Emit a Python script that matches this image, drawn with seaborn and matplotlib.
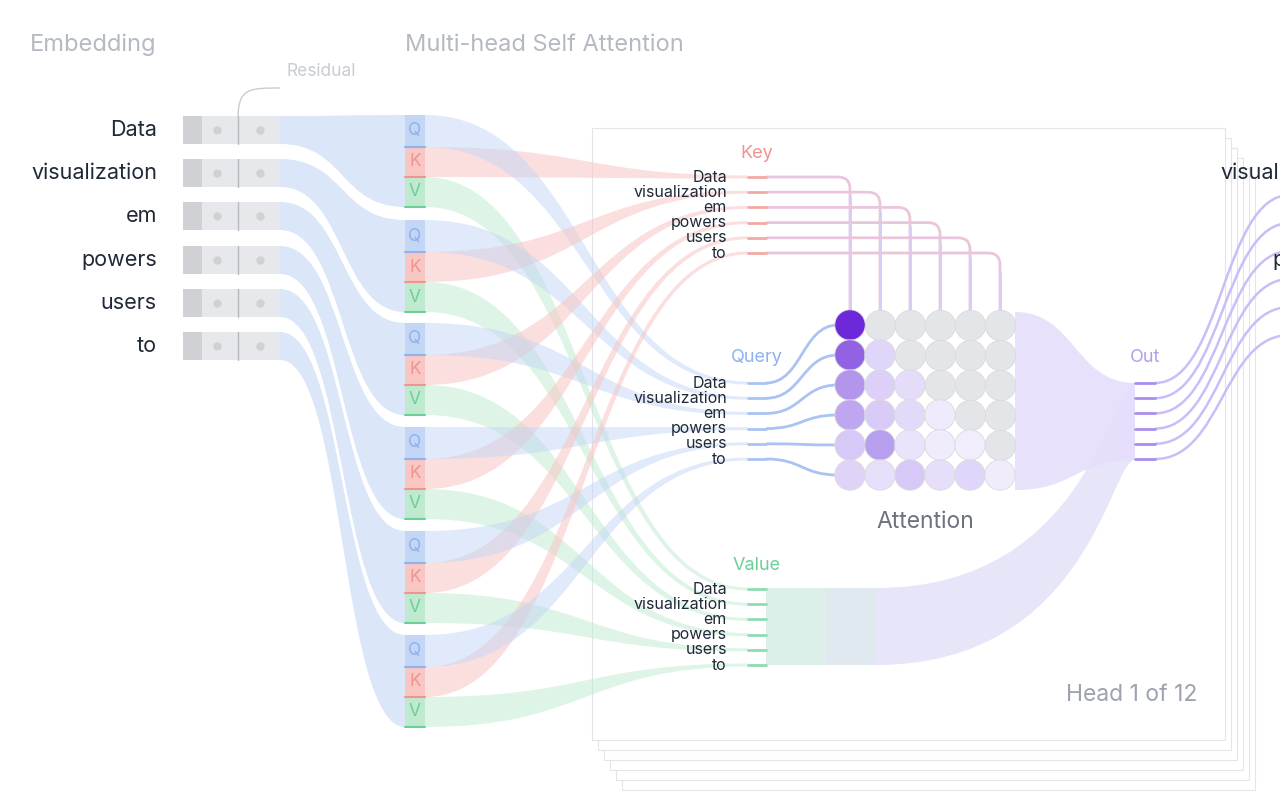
import numpy as np
import pandas as pd
import seaborn as sns
import matplotlib.pyplot as plt
from matplotlib.path import Path
from matplotlib.patches import PathPatch, Rectangle
from matplotlib.colors import LinearSegmentedColormap

tokens = ['Data', 'visualization', 'em', 'powers', 'users', 'to']
attention = [
    [1.00, 0, 0, 0, 0, 0],
    [0.80, 0.20, 0, 0, 0, 0],
    [0.60, 0.25, 0.15, 0, 0, 0],
    [0.50, 0.28, 0.17, 0.05, 0, 0],
    [0.30, 0.55, 0.10, 0.03, 0.02, 0],
    [0.22, 0.12, 0.30, 0.13, 0.20, 0.03],
]
head_label = 'Head 1 of 12'

sns.set_style('white')
plt.rcParams['font.family'] = ['Inter', 'DejaVu Sans']

fig = plt.figure(figsize=(12.8, 7.95), dpi=100)
ax = fig.add_axes([0, 0, 1, 1])

BLUE, RED, GREEN = '#c3d6f6', '#f8c6c3', '#bfead0'
BLUE_T, RED_T, GREEN_T, PURP_T = '#8fb1ec', '#f0948e', '#6ccf98', '#b49cf0'


def ribbon(x0, a0, b0, x1, a1, b1, color, alpha=0.5, c0=None, c1=None, z=2):
    c0 = (x0 + x1) / 2 if c0 is None else c0
    c1 = (x0 + x1) / 2 if c1 is None else c1
    verts = [(x0, a0), (c0, a0), (c1, a1), (x1, a1), (x1, b1),
             (c1, b1), (c0, b0), (x0, b0), (x0, a0)]
    codes = [Path.MOVETO, Path.CURVE4, Path.CURVE4, Path.CURVE4, Path.LINETO,
             Path.CURVE4, Path.CURVE4, Path.CURVE4, Path.CLOSEPOLY]
    ax.add_patch(PathPatch(Path(verts, codes), fc=color, ec='none', alpha=alpha, zorder=z))


def curve(x0, y0, x1, y1, color, lw=1.8, z=3, alpha=1):
    xm = (x0 + x1) / 2
    p = Path([(x0, y0), (xm, y0), (xm, y1), (x1, y1)],
             [Path.MOVETO, Path.CURVE4, Path.CURVE4, Path.CURVE4])
    ax.add_patch(PathPatch(p, fc='none', ec=color, lw=lw, zorder=z, alpha=alpha))


# titles
ax.text(30, 45, 'Embedding', fontsize=17, color='#b4b9c2', va='center')
ax.text(405, 45, 'Multi-head Self Attention', fontsize=17, color='#b4b9c2', va='center')
ax.text(286, 72, 'Residual', fontsize=12.5, color='#c8ccd3', va='center')
ax.add_patch(PathPatch(Path([(238, 118), (238, 88), (250, 88), (280, 88)],
                            [Path.MOVETO, Path.CURVE4, Path.CURVE4, Path.CURVE4]),
                       fc='none', ec='#c8ccd3', lw=1))

tok_y = [130, 173, 216, 260, 303, 346]
grp_top = [115, 220, 323, 427, 531, 635]
qkv_h = [32, 30, 30]

# head panel stack
for k in range(5, -1, -1):
    ax.add_patch(Rectangle((592 + 6 * k, 128 + 10 * k), 633, 612, fc='white',
                           ec='#e3e5e8', lw=0.8, zorder=1))

for i, t in enumerate(tokens):
    y = tok_y[i]
    ax.text(157, y, t, fontsize=15.5, ha='right', va='center', color='#1f2937')
    ax.add_patch(Rectangle((183, y - 14), 19, 28, fc='#cfd1d5', ec='none', zorder=2))
    ax.add_patch(Rectangle((202, y - 14), 78, 28, fc='#e6e8ec', ec='none', zorder=2))
    ax.plot([217, 260], [y, y], 'o', color='#cfd1d5', ms=5, zorder=3)
    ax.plot([238, 238], [y - 14, y + 14], color='#b5b8be', lw=1, zorder=3)
    g = grp_top[i]
    ribbon(280, y - 14, y + 14, 405, g, g + 92, BLUE, alpha=0.6, c0=345, c1=340)
    tops = [g, g + 32, g + 62]
    for j, (lab, fc, tc) in enumerate(zip('QKV', [BLUE, RED, GREEN], [BLUE_T, RED_T, GREEN_T])):
        ax.add_patch(Rectangle((405, tops[j]), 20, qkv_h[j], fc=fc, ec='none', zorder=3))
        ax.plot([405, 425], [tops[j] + qkv_h[j]] * 2, color=tc, lw=1.5, zorder=4)
        ax.text(415, tops[j] + qkv_h[j] / 2, lab, color=tc, fontsize=12.5, ha='center', va='center', zorder=5)

key_y = [177 + 15.2 * i for i in range(6)]
qry_y = [383 + 15.2 * i for i in range(6)]
val_y = [589 + 15.2 * i for i in range(6)]
col_x = [850 + 30 * j for j in range(6)]
row_y = [325 + 30 * i for i in range(6)]

for i in range(6):
    g = grp_top[i]
    ribbon(425, g + 32, g + 62, 748, key_y[i] - 1.5, key_y[i] + 1.5, RED, alpha=0.55)
    ribbon(425, g, g + 32, 748, qry_y[i] - 1.5, qry_y[i] + 1.5, BLUE, alpha=0.5)
    ribbon(425, g + 62, g + 92, 748, val_y[i] - 1.5, val_y[i] + 1.5, GREEN, alpha=0.5)

# value -> out and attention -> out
ax.add_patch(Rectangle((766, 588), 60, 77, fc='#dcefe8', ec='none', zorder=2))
ax.add_patch(Rectangle((826, 588), 50, 77, fc='#e0e9ef', ec='none', zorder=2))
ribbon(876, 588, 665, 1135, 383, 460, '#e4e4f8', alpha=0.9, c0=1090, c1=1110)
ribbon(1015, 312, 490, 1135, 383, 460, '#e6defb', alpha=0.9)

for lab, ys, col, tcol, ty in [('Key', key_y, '#f3a9a4', RED_T, 153),
                               ('Query', qry_y, '#a9c4f2', BLUE_T, 358),
                               ('Value', val_y, '#8ddcb2', GREEN_T, 565)]:
    ax.text(757, ty, lab, fontsize=13, color=tcol, ha='center', va='center', zorder=6)
    for i, t in enumerate(tokens):
        ax.text(727, ys[i], t, fontsize=11.5, ha='right', va='center', color='#1f2937', zorder=6)
        ax.plot([748, 766], [ys[i], ys[i]], color=col, lw=2, zorder=6)

# key lines to columns, query lines to rows
for i in range(6):
    xc, yk = col_x[i], key_y[i]
    p = Path([(766, yk), (xc - 12, yk), (xc, yk), (xc, yk + 12), (xc, 313)],
             [Path.MOVETO, Path.LINETO, Path.CURVE3, Path.CURVE3, Path.LINETO])
    ax.add_patch(PathPatch(p, fc='none', ec='#eac6dc', lw=2, zorder=4))
    ax.plot([xc, xc], [yk + 20, 313], color='#d6cdf7', lw=2, zorder=4)
    curve(766, qry_y[i], 838, row_y[i], '#a9c4f2', lw=2, z=4)

# attention matrix
rows, cols = np.meshgrid(range(6), range(6), indexing='ij')
df = pd.DataFrame({'x': np.array(col_x)[cols.ravel()], 'y': np.array(row_y)[rows.ravel()],
                   'w': np.array(attention).ravel(), 'masked': (cols > rows).ravel()})
cmap = LinearSegmentedColormap.from_list('att', ['#f3f0fd', '#d4c4f6', '#a98aea', '#6d28d9'])
sns.scatterplot(data=df[df.masked], x='x', y='y', color='#e4e5e8', s=480,
                edgecolor='#d9dadd', linewidth=0.6, ax=ax, zorder=5, legend=False)
sns.scatterplot(data=df[~df.masked], x='x', y='y', hue='w', palette=cmap, hue_norm=(0, 1),
                s=480, edgecolor='#d9dadd', linewidth=0.6, ax=ax, zorder=5, legend=False)
ax.text(925, 522, 'Attention', fontsize=16.5, color='#6b7280', ha='center', va='center', zorder=6)

# out
ax.text(1145, 358, 'Out', fontsize=13, color=PURP_T, ha='center', va='center', zorder=6)
for i in range(6):
    yo = 383 + 15.2 * i
    ax.plot([1135, 1155], [yo, yo], color='#a98ef0', lw=2, zorder=6)
    curve(1155, yo, 1290, 195 + 28 * i, '#cbbdf7', lw=1.8, z=2)
ax.text(1220, 173, 'visualization', fontsize=15.5, color='#1f2937', va='center', clip_on=True)
ax.text(1272, 260, 'powers', fontsize=15.5, color='#1f2937', va='center', clip_on=True)
ax.text(1197, 695, head_label, fontsize=16.5, color='#9ca3af', ha='right', va='center', zorder=6)

ax.set_xlim(0, 1280)
ax.set_ylim(795, 0)
ax.axis('off')
fig.savefig('out.png', dpi=100)
